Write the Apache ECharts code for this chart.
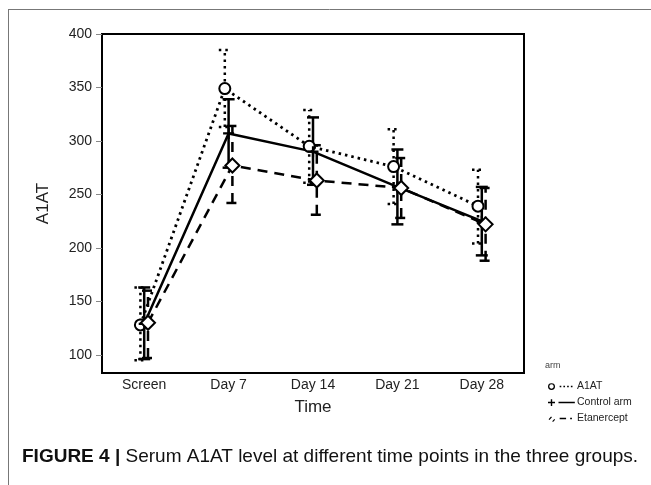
<!DOCTYPE html>
<html>
<head>
<meta charset="utf-8">
<script src="https://cdn.jsdelivr.net/npm/echarts@6/dist/echarts.min.js"></script>
<style>
  html, body { margin: 0; padding: 0; background: #fff; }
  #chart { width: 651px; height: 485px; }
</style>
</head>
<body>
<div id="chart"></div>
<script>
// time points
var categories = ['Screen', 'Day 7', 'Day 14', 'Day 21', 'Day 28'];
var yTicks = [100, 150, 200, 250, 300, 350, 400];

// A1AT arm
var a1atMean = [128, 349, 295, 276, 239];
var a1atLow  = [95, 313, 261, 241, 204];
var a1atHigh = [163, 385, 329, 311, 273];
// control arm
var ctrlMean = [129, 307, 290, 257, 225];
var ctrlLow  = [96, 275, 259, 222, 193];
var ctrlHigh = [163, 339, 322, 292, 257];
// etanercept arm
var etanMean = [130, 277, 263, 256, 222];
var etanLow  = [97, 242, 231, 228, 188];
var etanHigh = [160, 314, 296, 284, 256];

var FONT = '"Liberation Sans", Arial, sans-serif';
var chart = echarts.init(document.getElementById('chart'));

// small horizontal dodge so the arms do not sit on top of each other
function pts(mean, dodge) {
  return mean.map(function (v, i) { return [i + dodge, v]; });
}
function bars(low, high, dodge) {
  return low.map(function (v, i) { return [i + dodge, v, high[i]]; });
}
function errItem(lineType) {
  return function (params, api) {
    var lo = api.coord([api.value(0), api.value(1)]);
    var hi = api.coord([api.value(0), api.value(2)]);
    var w = 6;
    var st = { stroke: '#000', lineWidth: 2.5, lineDash: lineType, fill: null };
    return {
      type: 'group',
      children: [
        { type: 'line', shape: { x1: lo[0], y1: lo[1], x2: hi[0], y2: hi[1] }, style: st },
        { type: 'line', shape: { x1: lo[0] - w, y1: lo[1], x2: lo[0] + w, y2: lo[1] }, style: st },
        { type: 'line', shape: { x1: hi[0] - w, y1: hi[1], x2: hi[0] + w, y2: hi[1] }, style: st }
      ]
    };
  };
}

var plusPath = 'path://M4,0H6V4H10V6H6V10H4V6H0V4H4Z';
// legend keys: symbol, then a short line sample (box 24 x 8)
var anchor = 'M0,0L0.01,0L0,0.01Z M24,8L23.99,8L24,7.99Z ';
var keyA1AT = 'path://' + anchor +
  'M0,4A3,3 0 1,1 6,4A3,3 0 1,1 0,4Z M1.1,4A1.9,1.9 0 1,0 4.9,4A1.9,1.9 0 1,0 1.1,4Z ' +
  'M10,3.3H11.4V4.7H10Z M13.2,3.3H14.6V4.7H13.2Z M16.4,3.3H17.8V4.7H16.4Z M19.6,3.3H21V4.7H19.6Z';
var keyCtrl = 'path://' + anchor +
  'M0,3.4H6V4.6H0Z M2.4,1H3.6V7H2.4Z M9,3.3H23V4.7H9Z';
var keyEtan = 'path://' + anchor +
  'M0.5,4.6L2.6,2.2L3.4,2.9L1.3,5.3Z M3.6,6.4L5.4,4.4L6.1,5L4.3,7Z ' +
  'M10,3.3H15.5V4.7H10Z M19,3.3H20.5V4.7H19Z';

var option = {
  animation: false,
  backgroundColor: '#fff',
  grid: { left: 102, right: 127, top: 34, bottom: 112, show: true, borderColor: '#000', borderWidth: 2 },
  xAxis: [
    {
      type: 'category', data: categories, boundaryGap: true,
      name: 'Time', nameLocation: 'middle', nameGap: 26,
      nameTextStyle: { fontFamily: FONT, fontSize: 17, color: '#222' },
      axisLine: { show: false }, axisTick: { show: false },
      axisLabel: { fontFamily: FONT, fontSize: 14, color: '#222', margin: 5 }
    },
    { type: 'value', min: -0.5, max: 4.5, show: false }
  ],
  yAxis: {
    type: 'value', min: 83, max: 400,
    name: 'A1AT', nameLocation: 'middle', nameGap: 50,
    nameTextStyle: { fontFamily: FONT, fontSize: 17, color: '#222' },
    axisLine: { show: false, onZero: false },
    axisTick: { show: true, length: 6, lineStyle: { color: '#888' }, customValues: yTicks },
    axisLabel: { fontFamily: FONT, fontSize: 14, color: '#222', margin: 10, customValues: yTicks },
    splitLine: { show: false }
  },
  legend: {
    orient: 'vertical', left: 543, top: 376, itemGap: 5,
    itemWidth: 28, itemHeight: 9, symbolKeepAspect: false,
    itemStyle: { color: '#000', borderWidth: 0 },
    textStyle: { fontFamily: FONT, fontSize: 10.5, color: '#222', padding: [0, 0, 0, -4] },
    data: [
      { name: 'A1AT', icon: keyA1AT },
      { name: 'Control arm', icon: keyCtrl },
      { name: 'Etanercept', icon: keyEtan }
    ]
  },
  graphic: [
    { type: 'line', shape: { x1: 8, y1: 9.5, x2: 651, y2: 9.5 }, style: { stroke: '#777', lineWidth: 1 } },
    { type: 'line', shape: { x1: 8.5, y1: 9, x2: 8.5, y2: 485 }, style: { stroke: '#777', lineWidth: 1 } },
    { type: 'text', left: 545, top: 361, style: { text: 'arm', font: '9px ' + FONT, fill: '#444' } },
    {
      type: 'text', left: 22, top: 447,
      style: {
        text: '{b|FIGURE 4 |}{r| Serum A1AT level at different time points in the three groups.}',
        rich: {
          b: { font: 'bold 19px ' + FONT, fill: '#111' },
          r: { font: '19px ' + FONT, fill: '#111' }
        }
      }
    }
  ],
  series: [
    {
      name: 'A1AT', type: 'line', xAxisIndex: 1, data: pts(a1atMean, -0.045),
      symbol: 'emptyCircle', symbolSize: 11,
      itemStyle: { color: '#000', borderWidth: 1.5 },
      lineStyle: { color: '#000', width: 2.8, type: [2.5, 4] }
    },
    {
      name: 'Control arm', type: 'line', xAxisIndex: 1, data: pts(ctrlMean, 0),
      symbol: plusPath, symbolSize: 11,
      itemStyle: { color: '#000' },
      lineStyle: { color: '#000', width: 2.5, type: 'solid' }
    },
    {
      name: 'Etanercept', type: 'line', xAxisIndex: 1, data: pts(etanMean, 0.045),
      symbol: 'emptyDiamond', symbolSize: 14,
      itemStyle: { color: '#000', borderWidth: 1.3 },
      lineStyle: { color: '#000', width: 2.5, type: [10, 7] }
    },
    { type: 'custom', xAxisIndex: 1, data: bars(a1atLow, a1atHigh, -0.045), renderItem: errItem([2.5, 4]), z: 1 },
    { type: 'custom', xAxisIndex: 1, data: bars(ctrlLow, ctrlHigh, 0), renderItem: errItem(null), z: 1 },
    { type: 'custom', xAxisIndex: 1, data: bars(etanLow, etanHigh, 0.045), renderItem: errItem([10, 7]), z: 1 }
  ]
};
chart.setOption(option);
</script>
</body>
</html>
